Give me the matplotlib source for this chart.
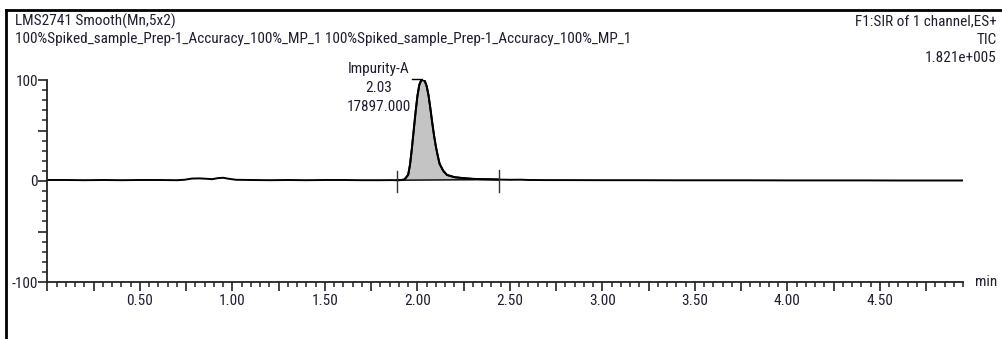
import matplotlib
matplotlib.use("Agg")
import matplotlib.pyplot as plt
from matplotlib.ticker import MultipleLocator, FuncFormatter
from matplotlib.lines import Line2D
from matplotlib import font_manager as fm
import numpy as np

# ---------------- data ----------------
time_min = [0.00, 0.10, 0.20, 0.30, 0.40, 0.50, 0.60, 0.70, 0.74, 0.78, 0.82,
            0.86, 0.89, 0.92, 0.95, 0.98, 1.02, 1.10, 1.20, 1.30, 1.40, 1.50,
            1.60, 1.70, 1.80, 1.86, 1.89, 1.91, 1.93, 1.95, 1.96, 1.97, 1.98,
            1.99, 2.00, 2.01, 2.02, 2.03, 2.04, 2.05, 2.06, 2.07, 2.08, 2.09,
            2.10, 2.11, 2.12, 2.14, 2.16, 2.20, 2.25, 2.30, 2.35, 2.40, 2.44,
            2.50, 2.56, 2.60, 2.70, 2.80, 3.00, 3.20, 3.40, 3.60, 3.80, 4.00,
            4.20, 4.40, 4.60, 4.80, 4.95]
intensity_pct = [1.0, 1.0, 0.8, 1.0, 0.8, 1.0, 1.0, 0.8, 1.2, 2.4, 2.6,
                 2.2, 1.8, 2.8, 3.2, 2.2, 1.2, 1.0, 0.8, 1.0, 0.8, 1.0,
                 1.0, 0.8, 0.8, 0.9, 0.8, 0.9, 1.5, 6.0, 16.0, 32.0, 50.0,
                 68.0, 84.0, 95.0, 99.5, 100.0, 99.0, 94.0, 85.0, 72.0, 58.0, 45.0,
                 34.0, 25.0, 17.0, 10.0, 6.0, 3.8, 2.8, 2.1, 1.8, 1.6, 1.4,
                 1.2, 1.3, 1.0, 0.9, 0.9, 0.8, 0.8, 0.7, 0.7, 0.7, 0.6,
                 0.6, 0.6, 0.5, 0.5, 0.5]

peak_name = "Impurity-A"
peak_rt = 2.03
peak_area = "17897.000"
integ_start = 1.89
integ_end = 2.44

header_left = ["LMS2741 Smooth(Mn,5x2)",
               "100%Spiked_sample_Prep-1_Accuracy_100%_MP_1 100%Spiked_sample_Prep-1_Accuracy_100%_MP_1"]
header_right = ["F1:SIR of 1 channel,ES+", "TIC", "1.821e+005"]

x_major = 0.25
x_minor = 0.05
y_labeled = [100, 0, -100]

# ---------------- font choice: a narrow sans if one is installed ----------------
names = {f.name for f in fm.fontManager.ttflist}
fsize = 11
chosen = None
for cand in ("Liberation Sans Narrow", "Arial Narrow", "Roboto Condensed", "Open Sans Condensed"):
    if cand in names:
        chosen = cand
        break
if chosen is None:
    for f in fm.fontManager.ttflist:
        if f.stretch in ("condensed", "semi-condensed") and f.style == "normal" and f.weight in (400, "normal", "regular"):
            chosen = f.name
            plt.rcParams['font.stretch'] = f.stretch
            break
if chosen is None:
    chosen = "Liberation Sans"
    fsize = 9.6
plt.rcParams['font.family'] = [chosen, 'Liberation Sans', 'DejaVu Sans']

# ---------------- figure ----------------
W, H = 1003, 339
fig = plt.figure(figsize=(W / 100, H / 100), dpi=100)
txt_color = '#1e1e30'

def fx(px):
    return px / W

def fy(py):
    return 1 - py / H

ax = fig.add_axes([fx(47.5), fy(282), fx(963) - fx(47.5), fy(80) - fy(282)])

ax.plot(time_min, intensity_pct, color='black', lw=1.4, solid_joinstyle='round')

t = np.array(time_min)
v = np.array(intensity_pct)
mask = (t >= integ_start) & (t <= integ_end)
b0 = np.interp(integ_start, t, v)
b1 = np.interp(integ_end, t, v)
base = b0 + (t[mask] - integ_start) / (integ_end - integ_start) * (b1 - b0)
ax.fill_between(t[mask], base, v[mask], color='#c4c4c4', lw=0)
ax.plot(t[mask], v[mask], color='black', lw=1.4)
ax.plot([integ_start, integ_end], [b0, b1], color='black', lw=1.0)
for xm, bm in ((integ_start, b0), (integ_end, b1)):
    ax.plot([xm, xm], [bm - 12, bm + 9], color='#333333', lw=1.0)

ax.set_xlim(0, 4.95)
ax.set_ylim(-100, 100)

for s in ('top', 'right'):
    ax.spines[s].set_visible(False)
for s in ('left', 'bottom'):
    ax.spines[s].set_linewidth(1.3)
    ax.spines[s].set_color('#222222')

ax.xaxis.set_major_locator(MultipleLocator(x_major))
ax.xaxis.set_minor_locator(MultipleLocator(x_minor))
ax.xaxis.set_major_formatter(FuncFormatter(
    lambda val, pos: f"{val:.2f}" if (abs(val / 0.5 - round(val / 0.5)) < 1e-6 and val > 0.01) else ""))
ax.yaxis.set_major_locator(MultipleLocator(50))
ax.yaxis.set_minor_locator(MultipleLocator(10))
ax.yaxis.set_major_formatter(FuncFormatter(
    lambda val, pos: f"{int(round(val))}" if int(round(val)) in y_labeled else ""))

ax.tick_params(axis='both', which='major', length=6.5, width=1.2, color='#222222',
               labelsize=fsize, labelcolor=txt_color)
ax.tick_params(axis='both', which='minor', length=3.5, width=1.1, color='#222222')
ax.tick_params(axis='x', which='major', pad=2)
ax.tick_params(axis='y', which='major', pad=0.5)

fig.text(fx(975), fy(282), "min", ha='left', va='center', fontsize=fsize, color=txt_color)

# peak annotation
ax.text(1.79, 111, peak_name, ha='center', va='center', fontsize=fsize, color=txt_color, clip_on=False)
ax.text(1.79, 92, f"{peak_rt:.2f}", ha='center', va='center', fontsize=fsize, color=txt_color, clip_on=False)
ax.text(1.79, 73, peak_area, ha='center', va='center', fontsize=fsize, color=txt_color, clip_on=False)
ax.plot([1.97, peak_rt - 0.005], [101, 101], color='black', lw=1.0, clip_on=False)

# headers
fig.text(fx(15), fy(21), header_left[0], ha='left', va='center', fontsize=fsize, color=txt_color)
fig.text(fx(15), fy(39), header_left[1], ha='left', va='center', fontsize=fsize, color=txt_color)
for i, s in enumerate(header_right):
    fig.text(fx(997), fy(21 + 18.5 * i), s, ha='right', va='center', fontsize=fsize, color=txt_color)

# page frame (top and left edges)
fig.add_artist(Line2D([fx(6), 1], [fy(10), fy(10)], color='black', lw=2.0, transform=fig.transFigure))
fig.add_artist(Line2D([fx(6), fx(6)], [fy(10), 0], color='black', lw=2.0, transform=fig.transFigure))

fig.savefig("out.png", dpi=100)
